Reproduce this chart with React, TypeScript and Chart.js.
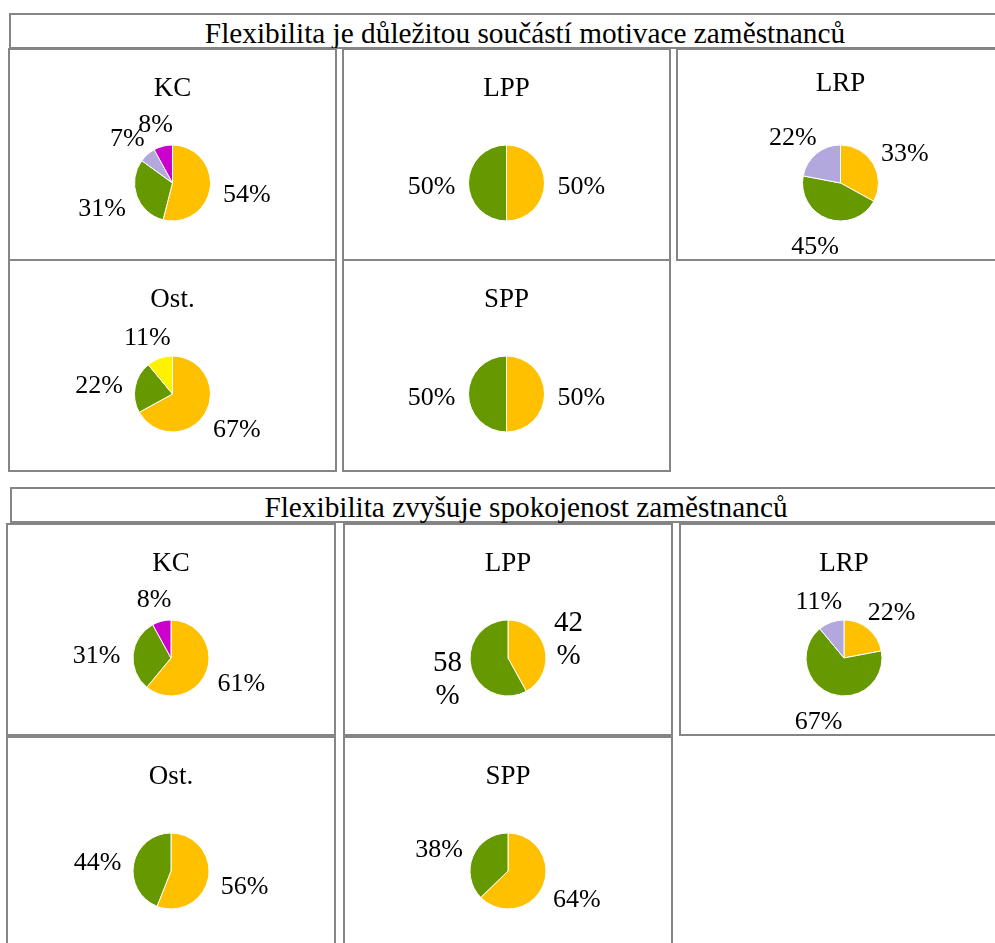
import React, { useEffect, useRef } from "react";
import { Chart, registerables } from "chart.js";

Chart.register(...registerables);

// ---------- data ----------
const sectionTitles = [
  "Flexibilita je důležitou součástí motivace zaměstnanců",
  "Flexibilita zvyšuje spokojenost zaměstnanců",
];
const groups = ["KC", "LPP", "LRP", "Ost.", "SPP"];
const answerCategories = ["Odpověď 1", "Odpověď 2", "Odpověď 3", "Odpověď 4", "Odpověď 5"];

// values in %, per answer category (null = category not present)
const motivaceKC = [54, 31, 7, 8, null];
const motivaceLPP = [50, 50, null, null, null];
const motivaceLRP = [33, 45, 22, null, null];
const motivaceOst = [67, 22, null, null, 11];
const motivaceSPP = [50, 50, null, null, null];

const spokojenostKC = [61, 31, null, 8, null];
const spokojenostLPP = [42, 58, null, null, null];
const spokojenostLRP = [22, 67, 11, null, null];
const spokojenostOst = [56, 44, null, null, null];
const spokojenostSPP = [64, 38, null, null, null];

// ---------- styles ----------
const SERIF = "'Liberation Serif', 'Times New Roman', serif";
const sliceColors = ["#FFC000", "#669900", "#B3A8DE", "#CC00CC", "#FFF200"];
const BORDER = "2px solid #858585";

type PanelSpec = {
  title: string;
  values: (number | null)[];
  left: number;
  top: number;
  width: number;
  height: number;
  labelSize?: number;
  wrap?: boolean;
  titleShift?: number;
};

const pieLabelsPlugin = {
  id: "pieLabels",
  afterDatasetsDraw(chart: any, _args: any, opts: any) {
    const ctx = chart.ctx;
    const meta = chart.getDatasetMeta(0);
    const data = chart.data.datasets[0].data as number[];
    const size = opts.size || 26;
    const lineH = opts.lineHeight || size;
    const gap = opts.gap ?? 10;
    const yShift = opts.yShift ?? 0;
    ctx.save();
    ctx.font = `${size}px ${SERIF}`;
    ctx.fillStyle = "#000";
    ctx.textAlign = "center";
    ctx.textBaseline = "middle";
    meta.data.forEach((arc: any, i: number) => {
      const v = data[i];
      if (v == null) return;
      const p = arc.getProps(["x", "y", "startAngle", "endAngle", "outerRadius"], true);
      const mid = (p.startAngle + p.endAngle) / 2;
      const dx = Math.cos(mid);
      const dy = Math.sin(mid);
      const lines = opts.wrap ? [String(v), "%"] : [`${v}%`];
      const w = Math.max(...lines.map((l: string) => ctx.measureText(l).width));
      const h = lines.length * lineH;
      const px = p.x + dx * (p.outerRadius + gap) + dx * (w / 2);
      const py = p.y + dy * (p.outerRadius + gap) + dy * (h / 2) + yShift;
      lines.forEach((l: string, k: number) => {
        const ly = py - h / 2 + lineH * (k + 0.5) + 1;
        ctx.fillText(l, px, ly);
      });
    });
    ctx.restore();
  },
};

function whenFontsReady(): Promise<void> {
  const fonts: any = (document as any).fonts;
  if (!fonts || !fonts.load) return Promise.resolve();
  return Promise.all([
    fonts.load(`26px "Liberation Serif"`),
    fonts.load(`27px "Liberation Serif"`),
  ])
    .then(() => undefined)
    .catch(() => undefined);
}

function PiePanel(spec: PanelSpec) {
  const ref = useRef<HTMLCanvasElement>(null);
  const innerW = spec.width - 4;
  const innerH = spec.height - 4;
  useEffect(() => {
    let chart: Chart | null = null;
    let cancelled = false;
    whenFontsReady().then(() => {
      if (cancelled || !ref.current) return;
      const idx = spec.values.map((_, i) => i).filter((i) => spec.values[i] != null);
      const shift = spec.titleShift || 0;
      chart = new Chart(ref.current, {
        type: "pie",
        data: {
          labels: idx.map((i) => answerCategories[i]),
          datasets: [
            {
              data: idx.map((i) => spec.values[i] as number),
              backgroundColor: idx.map((i) => sliceColors[i]),
              borderColor: "#ffffff",
              borderWidth: 1,
              radius: 38,
            } as any,
          ],
        },
        options: {
          responsive: false,
          maintainAspectRatio: false,
          animation: false,
          radius: 38,
          layout: { padding: 0 },
          plugins: {
            legend: { display: false },
            tooltip: { enabled: false },
            title: {
              display: true,
              text: spec.title,
              color: "#000",
              font: { family: SERIF, size: 27, weight: "normal", lineHeight: 1.2 },
              padding: { top: 23 + shift, bottom: 1.6 - shift },
            },
            pieLabels: {
              size: spec.labelSize || 26,
              lineHeight: spec.wrap ? 33 : 26,
              wrap: !!spec.wrap,
              gap: spec.wrap ? 10 : 13,
              yShift: spec.wrap ? 1 : 3,
            },
          } as any,
        } as any,
        plugins: [pieLabelsPlugin as any],
      });
    });
    return () => {
      cancelled = true;
      if (chart) chart.destroy();
    };
  }, []);
  return (
    <div
      style={{
        position: "absolute",
        left: spec.left,
        top: spec.top,
        width: spec.width,
        height: spec.height,
        border: BORDER,
        boxSizing: "border-box",
        background: "#fff",
      }}
    >
      <canvas ref={ref} width={innerW} height={innerH} style={{ display: "block", width: innerW, height: innerH }} />
    </div>
  );
}

function TitleBox({ text, left, top }: { text: string; left: number; top: number }) {
  return (
    <div
      style={{
        position: "absolute",
        left,
        top,
        width: 1032,
        height: 36,
        border: BORDER,
        boxSizing: "border-box",
        fontFamily: SERIF,
        fontSize: 29.3,
        lineHeight: "32px",
        paddingTop: 2,
        textAlign: "center",
        color: "#000",
        whiteSpace: "nowrap",
        background: "#fff",
      }}
    >
      {text}
    </div>
  );
}

export default function App() {
  const s1 = [motivaceKC, motivaceLPP, motivaceLRP, motivaceOst, motivaceSPP];
  const s2 = [spokojenostKC, spokojenostLPP, spokojenostLRP, spokojenostOst, spokojenostSPP];
  const pos1 = [
    [8, 48, 0],
    [342, 48, 0],
    [676, 48, -5],
    [8, 259, 0],
    [342, 259, 0],
  ];
  const pos2 = [
    [6, 523, 0],
    [343, 523, 0],
    [679, 523, 0],
    [6, 736, 0],
    [343, 736, 0],
  ];
  return (
    <div
      style={{
        position: "absolute",
        left: 0,
        top: 0,
        width: 995,
        height: 943,
        overflow: "hidden",
        background: "#fff",
      }}
    >
      <TitleBox text={sectionTitles[0]} left={9} top={13} />
      {groups.map((g, i) => (
        <PiePanel
          key={"a" + i}
          title={g}
          values={s1[i]}
          left={pos1[i][0]}
          top={pos1[i][1]}
          width={329}
          height={213}
          titleShift={pos1[i][2]}
        />
      ))}
      <TitleBox text={sectionTitles[1]} left={10} top={487} />
      {groups.map((g, i) => (
        <PiePanel
          key={"b" + i}
          title={g}
          values={s2[i]}
          left={pos2[i][0]}
          top={pos2[i][1]}
          width={330}
          height={213}
          labelSize={g === "LPP" ? 29 : 26}
          wrap={g === "LPP"}
          titleShift={pos2[i][2]}
        />
      ))}
    </div>
  );
}
